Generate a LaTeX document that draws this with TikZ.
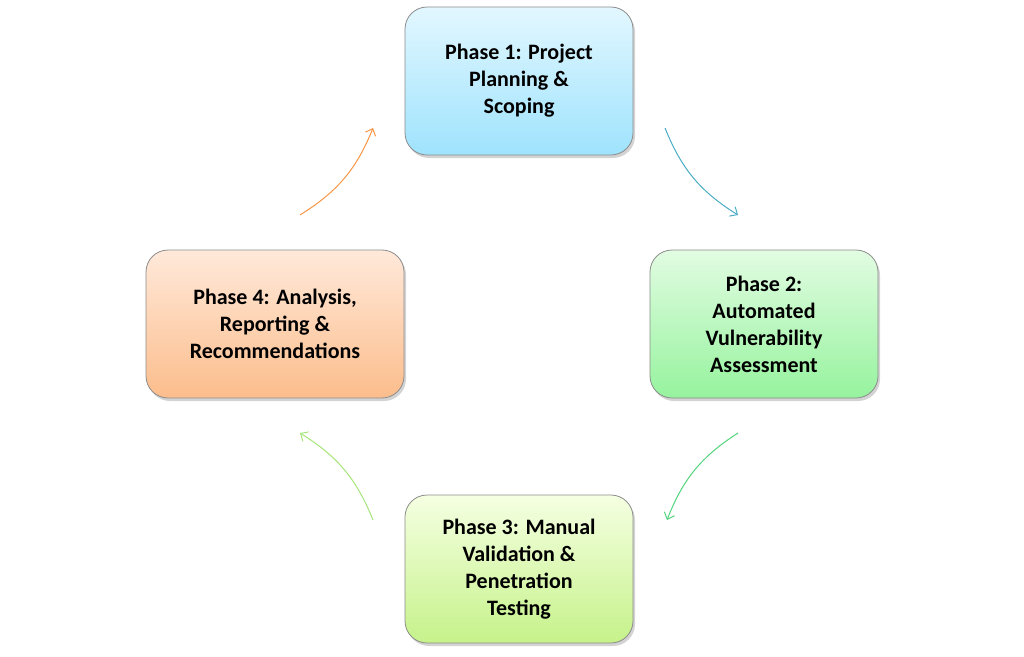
\documentclass[tikz,border=0pt]{standalone}
\usepackage{fontspec}
\setmainfont{Carlito}
\usetikzlibrary{shadows,arrows.meta}
\definecolor{bA}{HTML}{E2F7FF}\definecolor{bB}{HTML}{9FE3FD}
\definecolor{gA}{HTML}{E2FCE2}\definecolor{gB}{HTML}{96F39E}
\definecolor{lA}{HTML}{F5FFE2}\definecolor{lB}{HTML}{C6F28A}
\definecolor{oA}{HTML}{FFE9DA}\definecolor{oB}{HTML}{FCBD8C}
\definecolor{a1}{HTML}{4BACC6}\definecolor{a2}{HTML}{52D47C}
\definecolor{a3}{HTML}{A6E57A}\definecolor{a4}{HTML}{F79646}
\begin{document}
\begin{tikzpicture}[x=1pt,y=-1pt,
 phase/.style={draw=black!45,line width=0.8pt,rounded corners=22pt,minimum height=148pt,
   align=center,font=\bfseries\fontsize{22}{27}\selectfont,
   drop shadow={shadow xshift=2pt,shadow yshift=-3pt,opacity=0.35}},
 arr/.style={line width=1pt,-{Straight Barb[length=6pt,width=11pt]}}]
\useasboundingbox (0,0) rectangle (1024,656);
\node[phase,minimum width=228pt,top color=bA,bottom color=bB] (p1) at (519,81) {Phase 1: Project\\Planning \&\\Scoping};
\node[phase,minimum width=228pt,top color=gA,bottom color=gB] (p2) at (764,324) {Phase 2:\\Automated\\Vulnerability\\Assessment};
\node[phase,minimum width=228pt,top color=lA,bottom color=lB] (p3) at (519,569) {Phase 3: Manual\\Validation \&\\Penetration\\Testing};
\node[phase,minimum width=258pt,top color=oA,bottom color=oB] (p4) at (275,324) {Phase 4: Analysis,\\Reporting \&\\Recommendations};
\coordinate (s1) at (665,128);\coordinate (e1) at (738,215);
\coordinate (s2) at (738,433);\coordinate (e2) at (667,520);
\coordinate (s3) at (373,520);\coordinate (e3) at (300,433);
\coordinate (s4) at (300,215);\coordinate (e4) at (373,128);
\draw[arr,a1] (s1) to[bend right=18] (e1);
\draw[arr,a2] (s2) to[bend right=18] (e2);
\draw[arr,a3] (s3) to[bend right=18] (e3);
\draw[arr,a4] (s4) to[bend right=18] (e4);
\end{tikzpicture}
\end{document}
